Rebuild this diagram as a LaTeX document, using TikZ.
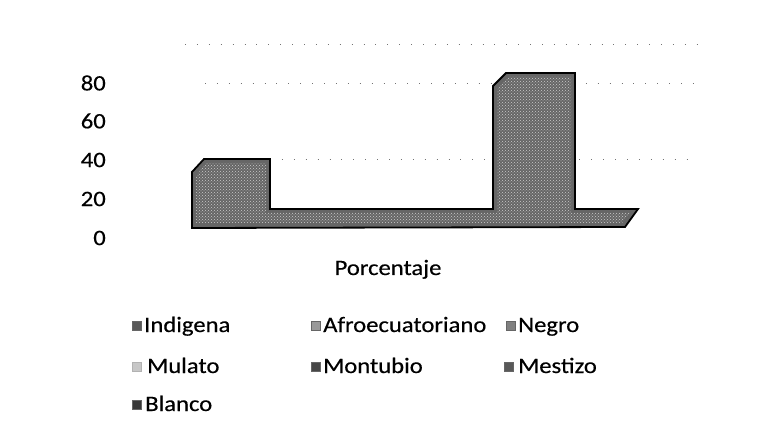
\documentclass[tikz,border=0pt]{standalone}
\usepackage{fontspec}
\setmainfont{Carlito}
\usetikzlibrary{patterns}
\begin{document}
\begin{tikzpicture}[x=1pt,y=-1pt,
  lbl/.style={font=\fontsize{22}{24}\selectfont\addfontfeatures{FakeBold=0.35}, inner sep=0pt, text=black, xscale=1.12},
  grid/.style={black!55, line width=0.9pt, dash pattern=on 0.9pt off 11pt},
  area/.style={fill=black!60, draw=black, line width=1.8pt, line join=miter},
  legbox/.style={minimum size=9pt, inner sep=0pt, draw=black!60, line width=0.4pt}]
\useasboundingbox (0,0) rectangle (771,446);
\fill[white] (0,0) rectangle (771,446);
% gridlines
\draw[grid] (185,44) -- (700,44);
\draw[grid] (205,83) -- (700,83);
\draw[grid] (270,159) -- (690,159);
% area
\filldraw[area] (192,228) -- (192,172) -- (204,159) -- (270,159) -- (270,209)
  -- (493,209) -- (493,86) -- (506,73) -- (575,73) -- (575,209) -- (638,209)
  -- (625,227) -- cycle;
\fill[pattern=crosshatch dots, pattern color=white!80!black] (196,176) -- (206,163) -- (266,163) -- (266,213)
  -- (497,213) -- (497,90) -- (508,77) -- (571,77) -- (571,213) -- (630,213)
  -- (622,223) -- (196,223) -- cycle;
% axis labels
\node[lbl, anchor=east] (y80) at (106,83) {80};
\node[lbl, anchor=east] (y60) at (106,121) {60};
\node[lbl, anchor=east] (y40) at (106,160) {40};
\node[lbl, anchor=east] (y20) at (106,199) {20};
\node[lbl, anchor=east] (y0) at (106,238) {0};
% axis title
\node[lbl, anchor=base] (title) at (388,275) {Porcentaje};
% legend
\node[legbox, fill=black!65] (m1) at (137,326) {};
\node[lbl, anchor=base west] (t1) at (144,332) {Indigena};
\node[legbox, fill=black!40] (m2) at (316,326) {};
\node[lbl, anchor=base west] (t2) at (323,332) {Afroecuatoriano};
\node[legbox, fill=black!50] (m3) at (511,326) {};
\node[lbl, anchor=base west] (t3) at (518,332) {Negro};
\node[legbox, fill=black!22, draw=black!30] (m4) at (137,367) {};
\node[lbl, anchor=base west] (t4) at (147,373) {Mulato};
\node[legbox, fill=black!72] (m5) at (316,367) {};
\node[lbl, anchor=base west] (t5) at (323,373) {Montubio};
\node[legbox, fill=black!65] (m6) at (509,367) {};
\node[lbl, anchor=base west] (t6) at (518,373) {Mestizo};
\node[legbox, fill=black!78] (m7) at (137,405) {};
\node[lbl, anchor=base west] (t7) at (145,411) {Blanco};
\end{tikzpicture}
\end{document}
